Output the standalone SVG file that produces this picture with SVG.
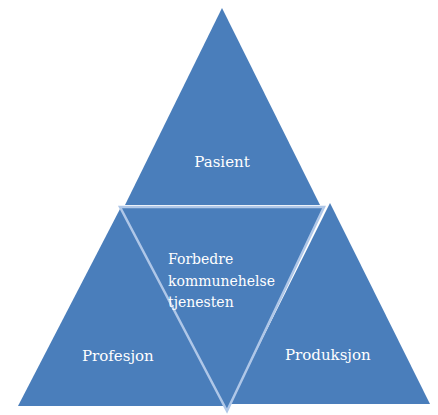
<svg xmlns="http://www.w3.org/2000/svg" width="438" height="415" viewBox="0 0 438 415">
  <style>
    .seg { fill: #4a7ebb; }
    .core { fill: #4a7ebb; stroke: #afc7e8; stroke-width: 2.5; stroke-linejoin: miter; }
    .lbl { fill: #ffffff; font-family: "DejaVu Serif", "Liberation Serif", serif; font-size: 15px; }
    .lbl-sm { font-size: 14px; }
  </style>
  <rect width="438" height="415" fill="#ffffff"/>

  <!-- top segment -->
  <g id="pasient">
    <polygon class="seg" points="222,8 320,205 125,205"/>
    <text class="lbl" x="222" y="167" text-anchor="middle">Pasient</text>
  </g>

  <!-- lower left segment -->
  <g id="profesjon">
    <polygon class="seg" points="121,207 225,406 18,406"/>
    <text class="lbl" x="82" y="361">Profesjon</text>
  </g>

  <!-- lower right segment -->
  <g id="produksjon">
    <polygon class="seg" points="330,203 430,404 230,404"/>
    <text class="lbl" x="285" y="360">Produksjon</text>
  </g>

  <!-- inverted centre segment -->
  <g id="forbedre">
    <polygon class="core" points="120,207 324,207 227,411"/>
    <text class="lbl lbl-sm" x="168" y="264">Forbedre</text>
    <text class="lbl lbl-sm" x="168" y="286">kommunehelse</text>
    <text class="lbl lbl-sm" x="168" y="307">tjenesten</text>
  </g>
</svg>
